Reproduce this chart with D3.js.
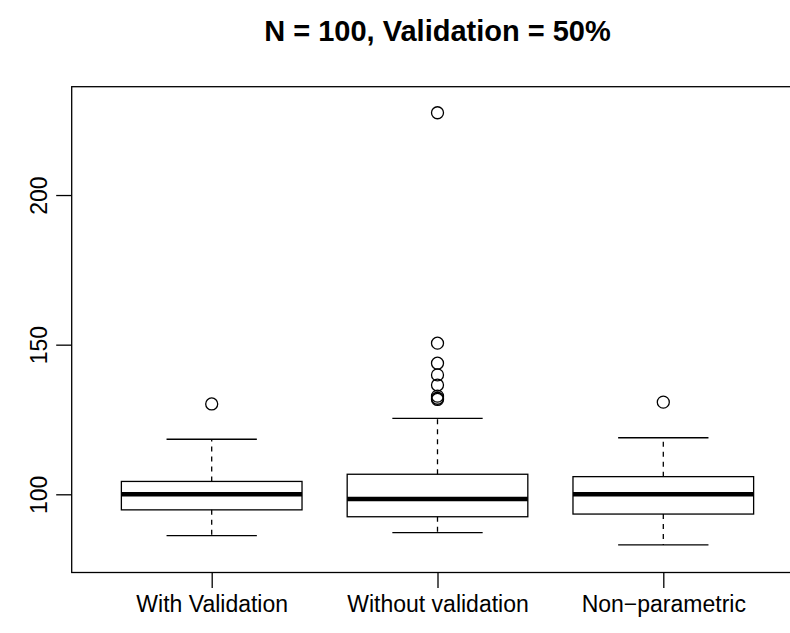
<!DOCTYPE html>
<html>
<head>
<meta charset="utf-8">
<script src="https://cdn.jsdelivr.net/npm/d3@7"></script>
<style>
  html, body { margin: 0; padding: 0; background: #fff; }
  svg { display: block; font-family: "Liberation Sans", Arial, sans-serif; }
</style>
</head>
<body>
<svg id="chart" width="790" height="633"></svg>
<script>
// Groups and their boxplot statistics
const categories = ["With Validation", "Without validation", "Non\u2212parametric"];
const lowerWhisker = [86.2, 87.2, 83.1];
const q1 = [94.8, 92.5, 93.4];
const medians = [100.0, 98.4, 100.0];
const q3 = [104.3, 106.7, 105.9];
const upperWhisker = [118.4, 125.4, 118.9];
const outliers = [
  [130.2],
  [227.5, 150.5, 143.8, 139.9, 136.5, 132.8, 132.1, 131.7],
  [130.8]
];
const yTicks = [100, 150, 200];
const title = "N = 100, Validation = 50%";

const svg = d3.select("#chart");

// Plot region (right edge runs past the canvas)
const plotL = 71.7, plotR = 803.3, plotT = 86.7, plotB = 572.5;

const x = d3.scaleLinear().domain([0.38, 3.62]).range([plotL, plotR]);
const y = d3.scaleLinear().domain([73.87, 236.2]).range([plotB, plotT]);

const boxHalf = (x(1.4) - x(1.0));      // box width 0.8
const stapleHalf = boxHalf / 2;

const stroke = "#000";
const lw = 1.3;
const axisFont = "23px";

// Frame
svg.append("rect")
  .attr("x", plotL).attr("y", plotT)
  .attr("width", plotR - plotL).attr("height", plotB - plotT)
  .attr("fill", "none").attr("stroke", stroke).attr("stroke-width", lw);

// Y axis
const yAxis = d3.axisLeft(y).tickValues(yTicks).tickSize(15.5).tickPadding(0).tickFormat(d3.format("d"));
const gy = svg.append("g").attr("transform", `translate(${plotL},0)`).call(yAxis);
gy.select(".domain").remove();
gy.selectAll(".tick line").attr("stroke", stroke).attr("stroke-width", lw);
gy.selectAll(".tick text")
  .attr("x", null).attr("dy", null)
  .attr("transform", "translate(-25,0) rotate(-90)")
  .attr("text-anchor", "middle")
  .attr("fill", "#000")
  .style("font-size", axisFont);

// X axis
const xAxis = d3.axisBottom(x).tickValues([1, 2, 3]).tickSize(15.5).tickPadding(0)
  .tickFormat((d, i) => categories[i]);
const gx = svg.append("g").attr("transform", `translate(0,${plotB})`).call(xAxis);
gx.select(".domain").remove();
gx.selectAll(".tick line").attr("stroke", stroke).attr("stroke-width", lw);
gx.selectAll(".tick text")
  .attr("y", 39).attr("dy", null)
  .attr("fill", "#000")
  .style("font-size", axisFont);

// Boxes
const g = svg.append("g");
categories.forEach((c, i) => {
  const cx = x(i + 1);
  // whiskers
  g.append("line").attr("x1", cx).attr("x2", cx).attr("y1", y(q3[i])).attr("y2", y(upperWhisker[i]))
    .attr("stroke", stroke).attr("stroke-width", lw).attr("stroke-dasharray", "5,5");
  g.append("line").attr("x1", cx).attr("x2", cx).attr("y1", y(q1[i])).attr("y2", y(lowerWhisker[i]))
    .attr("stroke", stroke).attr("stroke-width", lw).attr("stroke-dasharray", "5,5");
  // staples
  [upperWhisker[i], lowerWhisker[i]].forEach(v => {
    g.append("line").attr("x1", cx - stapleHalf).attr("x2", cx + stapleHalf)
      .attr("y1", y(v)).attr("y2", y(v))
      .attr("stroke", stroke).attr("stroke-width", lw);
  });
  // box
  g.append("rect")
    .attr("x", cx - boxHalf).attr("width", 2 * boxHalf)
    .attr("y", y(q3[i])).attr("height", y(q1[i]) - y(q3[i]))
    .attr("fill", "none").attr("stroke", stroke).attr("stroke-width", lw);
  // median
  g.append("line").attr("x1", cx - boxHalf).attr("x2", cx + boxHalf)
    .attr("y1", y(medians[i])).attr("y2", y(medians[i]))
    .attr("stroke", stroke).attr("stroke-width", 4.5);
  // outliers
  g.selectAll(null).data(outliers[i]).enter().append("circle")
    .attr("cx", cx).attr("cy", d => y(d)).attr("r", 6)
    .attr("fill", "none").attr("stroke", stroke).attr("stroke-width", lw);
});

// Title
svg.append("text")
  .attr("x", (plotL + plotR) / 2).attr("y", 41)
  .attr("text-anchor", "middle")
  .style("font-size", "29px").style("font-weight", "bold")
  .text(title);
</script>
</body>
</html>
